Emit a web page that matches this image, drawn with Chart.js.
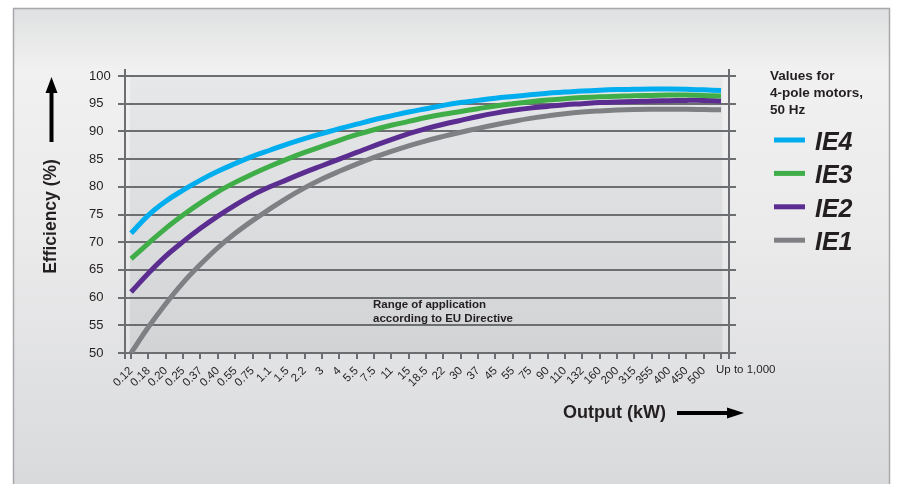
<!DOCTYPE html>
<html><head><meta charset="utf-8">
<script src="https://cdn.jsdelivr.net/npm/chart.js@4.4.1/dist/chart.umd.min.js"></script>
<style>html,body{margin:0;padding:0;background:#fff;}#wrap{width:903px;height:484px;position:relative;}</style>
</head><body><div id="wrap"><canvas id="c"></canvas></div>
<script>
// ---- data ----
const categories = ['0.12','0.18','0.20','0.25','0.37','0.40','0.55','0.75','1.1','1.5','2.2','3','4','5.5','7.5','11','15','18.5','22','30','37','45','55','75','90','110','132','160','200','315','355','400','450','500','Up to 1,000'];
const seriesNames = ['IE4','IE3','IE2','IE1'];
const ie4 = [71.6,74.9,77.4,79.4,81.2,82.8,84.2,85.5,86.6,87.7,88.7,89.6,90.5,91.3,92.1,92.8,93.5,94.1,94.7,95.2,95.6,96.0,96.3,96.6,96.9,97.1,97.3,97.45,97.55,97.6,97.65,97.65,97.6,97.5,97.4];
const ie3 = [67.0,69.8,72.5,74.9,77.1,79.1,80.8,82.3,83.7,85.0,86.2,87.3,88.4,89.4,90.3,91.1,91.8,92.5,93.1,93.6,94.1,94.6,95.0,95.35,95.65,95.9,96.1,96.25,96.35,96.45,96.5,96.55,96.55,96.5,96.4];
const ie2 = [61.0,64.4,67.5,70.1,72.5,74.7,76.7,78.5,80.0,81.3,82.6,83.8,85.0,86.2,87.4,88.5,89.6,90.5,91.3,92.0,92.7,93.3,93.8,94.2,94.5,94.8,95.0,95.2,95.3,95.4,95.5,95.55,95.6,95.6,95.5];
const ie1 = [50.0,54.7,58.9,62.7,66.0,69.0,71.6,73.9,76.0,78.0,79.8,81.4,82.8,84.1,85.3,86.4,87.4,88.3,89.1,89.85,90.55,91.2,91.8,92.35,92.8,93.2,93.5,93.7,93.85,93.95,94.0,94.0,94.0,93.95,93.9];
const yMin = 50, yMax = 100, yStep = 5;
const legendTitle = ['Values for','4-pole motors,','50 Hz'];
const noteText = ['Range of application','according to EU Directive'];
const xTitle = 'Output (kW)';
const yTitle = 'Efficiency (%)';

// ---- styles ----
const FONT = '"Liberation Sans", Arial, Helvetica, sans-serif';
const INK = '#231f20';
const GRID = '#6d6e71';
const colors = ['#00aeef','#3fae49','#5b2d90','#7f8083'];
const seriesData = [ie4, ie3, ie2, ie1];
const lastIdx = categories.length - 1;

const decor = {
  id: 'decor',
  beforeDraw(chart) {
    const {ctx, chartArea: a, scales: {x}} = chart;
    const W = chart.width, H = chart.height;
    ctx.save();
    ctx.fillStyle = '#fff'; ctx.fillRect(0, 0, W, H);
    const g = ctx.createLinearGradient(0, 8, 0, H);
    g.addColorStop(0, '#dfe0e1'); g.addColorStop(0.13, '#f1f1f1');
    g.addColorStop(0.5, '#eaeaeb'); g.addColorStop(1, '#d9dadc');
    ctx.fillStyle = g; ctx.fillRect(13, 8, 877, H);
    ctx.strokeStyle = '#a6a8ab'; ctx.lineWidth = 1.5; ctx.strokeRect(13.5, 8.5, 876, H + 5);
    const sx0 = x.getPixelForValue(-0.07), sx1 = x.getPixelForValue(lastIdx + 0.08);
    const g2 = ctx.createLinearGradient(0, a.top, 0, a.bottom);
    g2.addColorStop(0, '#e7e8e9'); g2.addColorStop(1, '#d2d3d5');
    ctx.fillStyle = g2; ctx.fillRect(sx0, a.top, sx1 - sx0, a.bottom - a.top);
    ctx.restore();
  },
  beforeDatasetsDraw(chart) {
    const {ctx, chartArea: a, scales: {y}} = chart;
    ctx.save();
    ctx.strokeStyle = GRID; ctx.lineWidth = 2;
    ctx.beginPath();
    for (let v = yMin; v <= yMax; v += yStep) {
      const py = Math.round(y.getPixelForValue(v));
      ctx.moveTo(a.right, py); ctx.lineTo(a.right + 7, py);
    }
    ctx.moveTo(a.left, a.top - 7); ctx.lineTo(a.left, a.bottom + 6);
    ctx.moveTo(a.right, a.top - 7); ctx.lineTo(a.right, a.bottom + 6);
    ctx.moveTo(a.left - 7, a.bottom); ctx.lineTo(a.right + 7, a.bottom);
    ctx.stroke();
    ctx.restore();
  },
  afterDraw(chart) {
    const {ctx, chartArea: a, scales: {x}} = chart;
    ctx.save();
    ctx.fillStyle = INK;
    ctx.font = '11.5px ' + FONT; ctx.textAlign = 'left'; ctx.textBaseline = 'middle';
    ctx.fillText(categories[lastIdx], x.getPixelForValue(lastIdx) - 5, 370);
    ctx.font = 'bold 11.5px ' + FONT;
    noteText.forEach((t, i) => ctx.fillText(t, 373, 305 + i * 14));
    ctx.save();
    ctx.translate(51, (a.top + a.bottom) / 2 + 2);
    ctx.rotate(-Math.PI / 2);
    ctx.font = 'bold 17.5px ' + FONT; ctx.textAlign = 'center';
    ctx.fillText(yTitle, 0, 0);
    ctx.restore();
    ctx.fillStyle = '#000';
    ctx.fillRect(49.5, 90, 4, 52);
    ctx.beginPath(); ctx.moveTo(51.5, 77); ctx.lineTo(57.5, 93); ctx.lineTo(45.5, 93); ctx.closePath(); ctx.fill();
    ctx.fillStyle = INK;
    ctx.font = 'bold 18px ' + FONT; ctx.textAlign = 'left';
    ctx.fillText(xTitle, 563, 413);
    ctx.fillStyle = '#000';
    ctx.fillRect(677, 411, 52, 4);
    ctx.beginPath(); ctx.moveTo(744, 413); ctx.lineTo(727, 407.5); ctx.lineTo(727, 418.5); ctx.closePath(); ctx.fill();
    ctx.fillStyle = INK;
    ctx.font = 'bold 13.5px ' + FONT; ctx.textBaseline = 'alphabetic';
    legendTitle.forEach((t, i) => ctx.fillText(t, 770, 80 + i * 17));
    chart.data.datasets.forEach((ds, i) => {
      const ly = 140 + i * 33.4;
      ctx.strokeStyle = ds.borderColor; ctx.lineWidth = 5;
      ctx.beginPath(); ctx.moveTo(774, ly); ctx.lineTo(805, ly); ctx.stroke();
      ctx.fillStyle = INK;
      ctx.font = 'italic bold 25px ' + FONT; ctx.textBaseline = 'middle';
      ctx.fillText(ds.label, 815, ly + 3);
    });
    ctx.restore();
  }
};

new Chart(document.getElementById('c'), {
  type: 'line',
  data: {
    datasets: seriesNames.map((name, k) => ({
      label: name,
      data: seriesData[k].map((v, i) => ({x: i, y: v})),
      borderColor: colors[k],
      borderWidth: 5,
      pointRadius: 0,
      fill: false,
      tension: 0.4,
      borderCapStyle: 'butt',
      borderJoinStyle: 'round',
      clip: 0
    }))
  },
  options: {
    responsive: true, maintainAspectRatio: false, animation: false,
    layout: {padding: {left: 89, top: 76, right: 174, bottom: 0}},
    plugins: {legend: {display: false}, tooltip: {enabled: false}},
    scales: {
      x: {
        type: 'linear', min: -0.35, max: lastIdx + 0.46,
        afterBuildTicks: s => { s.ticks = categories.map((c, i) => ({value: i})); },
        afterFit: s => { s.height = 131; },
        border: {display: false},
        grid: {display: true, drawOnChartArea: false, drawTicks: true, tickLength: 6, color: GRID, lineWidth: 2},
        ticks: {autoSkip: false, minRotation: 45, maxRotation: 45, padding: 5,
          color: INK, font: {family: FONT, size: 11.5},
          callback: v => (v === lastIdx ? '' : categories[v])}
      },
      y: {
        min: yMin, max: yMax,
        afterFit: s => { s.width = 36; },
        border: {display: false},
        grid: {color: GRID, lineWidth: 2, tickLength: 7, drawTicks: true},
        ticks: {stepSize: yStep, crossAlign: 'far', color: INK, font: {family: FONT, size: 13}}
      }
    }
  },
  plugins: [decor]
});
</script></body></html>
